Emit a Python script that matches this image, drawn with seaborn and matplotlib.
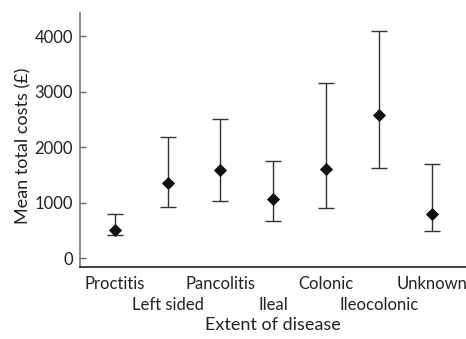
import matplotlib
matplotlib.use("Agg")
import matplotlib.pyplot as plt
import seaborn as sns
import pandas as pd

categories = ["Proctitis", "Left sided", "Pancolitis", "Ileal", "Colonic", "Ileocolonic", "Unknown"]
mean_cost = [508, 1348, 1587, 1060, 1605, 2575, 801]
lower_ci = [413, 916, 1030, 676, 898, 1635, 496]
upper_ci = [790, 2185, 2503, 1748, 3156, 4097, 1707]

df = pd.DataFrame({"extent": categories, "mean": mean_cost, "lo": lower_ci, "hi": upper_ci})
df["x"] = range(len(df))

sns.set_style("ticks")
plt.rcParams["font.family"] = ["Lato", "DejaVu Sans"]

fig = plt.figure(figsize=(4.66, 3.39), dpi=100)
ax = fig.add_axes([0.1717, 0.2133, 0.8283, 0.749])

ax.errorbar(df["x"], df["mean"],
            yerr=[df["mean"] - df["lo"], df["hi"] - df["mean"]],
            fmt="none", ecolor="#333333", elinewidth=1.0, capsize=5.8, capthick=1.0)
sns.scatterplot(data=df, x="x", y="mean", marker="D", color="#111111", s=45,
                edgecolor="#111111", linewidth=0, zorder=3, ax=ax, legend=False)

ax.set_xlim(-0.66, 6.65)
ax.set_ylim(-150, 4420)
ax.set_yticks([0, 1000, 2000, 3000, 4000])
ax.set_xticks(df["x"])
ax.set_xticklabels(categories, fontsize=12)
for i, t in enumerate(ax.xaxis.get_major_ticks()):
    t.set_pad(7 if i % 2 == 0 else 22)
ax.tick_params(axis="x", length=0, colors="#222222")
ax.tick_params(axis="y", direction="in", length=4, width=1, color="#666666",
               labelsize=12, pad=5, labelcolor="#222222")

for s in ["top", "right"]:
    ax.spines[s].set_visible(False)
ax.spines["left"].set_color("#777777")
ax.spines["bottom"].set_color("#222222")
ax.spines["left"].set_linewidth(1.2)
ax.spines["bottom"].set_linewidth(1.2)

ax.set_xlabel("Extent of disease", fontsize=13, labelpad=2.5, color="#222222")
ax.set_ylabel("Mean total costs (£)", fontsize=13, color="#222222")
ax.yaxis.set_label_coords(-0.125, 0.478)

fig.savefig("out.png", dpi=100)
